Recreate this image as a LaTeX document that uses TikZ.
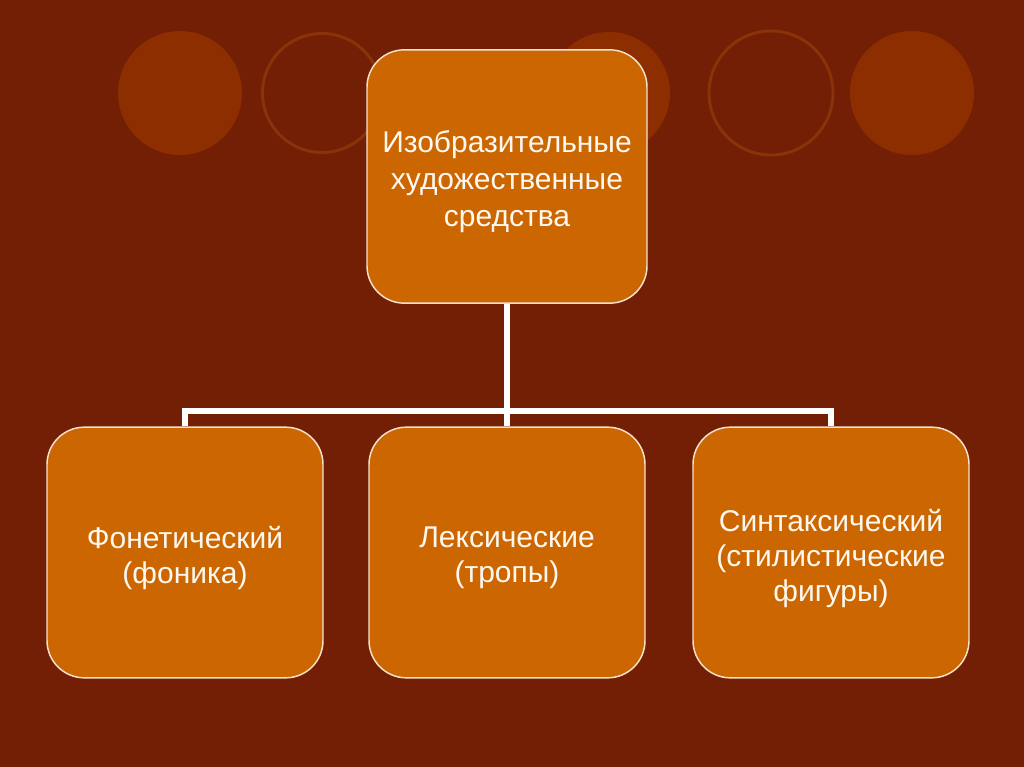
\documentclass[tikz,border=0pt]{standalone}
\usepackage{fontspec}
\setmainfont{Liberation Sans}
\definecolor{bgc}{HTML}{731F05}
\definecolor{circf}{HTML}{8C2E00}
\definecolor{circl}{HTML}{8A3208}
\definecolor{boxc}{HTML}{CC6600}
\definecolor{boxb}{HTML}{F6E2CC}
\definecolor{txtc}{HTML}{FFF8F0}
\tikzset{
  boxnode/.style={rectangle, rounded corners=28pt, fill=boxc, draw=boxb, line width=1.1pt, inner sep=0pt},
  topbox/.style={boxnode, minimum width=210pt, minimum height=190pt},
  lowbox/.style={boxnode, minimum width=207pt, minimum height=188pt},
  boxtext/.style={align=center, text=txtc, inner sep=0pt, font=\fontsize{22.5}{26.25}\selectfont},
  toptext/.style={boxtext, font=\fontsize{22.5}{27.75}\selectfont},
  conn/.style={draw=white, line width=4.2pt, line join=miter},
  fcirc/.style={fill=circf},
  ocirc/.style={draw=circl, line width=2.2pt}
}
\begin{document}
\begin{tikzpicture}[x=0.75pt,y=-0.75pt]
\fill[bgc] (0,0) rectangle (1024,767);
\useasboundingbox (0,0) rectangle (1024,767);
% background circles
\fill[fcirc] (180,93) circle (62);
\draw[ocirc] (322,93) circle (59.5);
\fill[fcirc] (609,93) circle (61);
\draw[ocirc] (771,93) circle (62);
\fill[fcirc] (912,93) circle (62);
% boxes
\node[topbox] (top) at (507,176.5) {};
\node[lowbox] (left) at (185,552.5) {};
\node[lowbox] (mid) at (507,552.5) {};
\node[lowbox] (right) at (831,552.5) {};
% texts
\node[toptext] (toptxt) at ([yshift=-4pt]top.center) {Изобразительные\\художественные\\средства};
\node[boxtext] (lefttxt) at ([yshift=-3.75pt]left.center) {Фонетический\\(фоника)};
\node[boxtext] (midtxt) at ([yshift=-3.75pt]mid.center) {Лексические\\(тропы)};
\node[boxtext] (righttxt) at ([yshift=-4.5pt]right.center) {Синтаксический\\(стилистические\\фигуры)};
% connectors
\coordinate (j) at (507,411);
\draw[conn] (top.south) -- (mid.north);
\draw[conn] (left.north) -- (left.north |- j) -- (right.north |- j) -- (right.north);
\end{tikzpicture}
\end{document}
